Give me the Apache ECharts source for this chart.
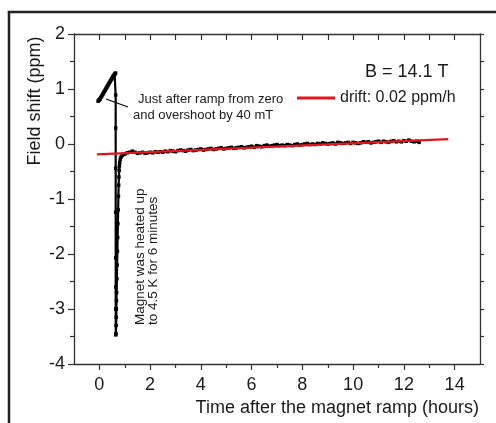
<!DOCTYPE html>
<html>
<head>
<meta charset="utf-8">
<script src="https://cdn.jsdelivr.net/npm/echarts@6/dist/echarts.min.js"></script>
<style>
html,body{margin:0;padding:0;background:#fff;overflow:hidden;}
#chart{width:496px;height:423px;}
</style>
</head>
<body>
<div id="chart"></div>
<script>
// ---- data ----
const rampTime  = [-0.05, -0.03, -0.01, 0.01, 0.03, 0.05, 0.08, 0.1, 0.13, 0.15, 0.18, 0.2, 0.23, 0.25, 0.28, 0.3, 0.33, 0.35, 0.38, 0.4, 0.43, 0.45, 0.48, 0.5, 0.53, 0.55, 0.58, 0.6, 0.62, 0.64];
const rampShift = [0.78, 0.79, 0.80, 0.81, 0.82, 0.84, 0.86, 0.88, 0.90, 0.92, 0.94, 0.96, 0.98, 1.0, 1.02, 1.04, 1.06, 1.08, 1.10, 1.12, 1.14, 1.16, 1.18, 1.20, 1.22, 1.24, 1.25, 1.27, 1.28, 1.29];

const dropTime  = [0.642, 0.642, 0.643, 0.643, 0.644, 0.644, 0.645, 0.645];
const dropShift = [0.89, 0.29, -0.44, -1.24, -2.07, -2.6, -3.0, -3.47];

const recoverTime  = [0.655, 0.66, 0.665, 0.67, 0.675, 0.68, 0.69, 0.70, 0.71, 0.72, 0.73, 0.74, 0.75, 0.76, 0.77, 0.78, 0.79, 0.80, 0.82, 0.85, 0.9, 0.95, 1.0, 1.1, 1.2];
const recoverShift = [-3.45, -3.3, -3.15, -3.0, -2.85, -2.7, -2.45, -2.2, -1.95, -1.7, -1.45, -1.2, -0.95, -0.75, -0.6, -0.48, -0.4, -0.34, -0.28, -0.24, -0.21, -0.19, -0.18, -0.16, -0.15];

const driftTime  = [1.3, 1.4, 1.5, 1.6, 1.7, 1.8, 1.9, 2.0, 2.1, 2.2, 2.3, 2.4, 2.5, 2.6, 2.7, 2.8, 2.9, 3.0, 3.1, 3.2, 3.3, 3.4, 3.5, 3.6, 3.7, 3.8, 3.9, 4.0, 4.1, 4.2, 4.3, 4.4, 4.5, 4.6, 4.7, 4.8, 4.9, 5.0, 5.1, 5.2, 5.3, 5.4, 5.5, 5.6, 5.7, 5.8, 5.9, 6.0, 6.1, 6.2, 6.3, 6.4, 6.5, 6.6, 6.7, 6.8, 6.9, 7.0, 7.1, 7.2, 7.3, 7.4, 7.5, 7.6, 7.7, 7.8, 7.9, 8.0, 8.1, 8.2, 8.3, 8.4, 8.5, 8.6, 8.7, 8.8, 8.9, 9.0, 9.1, 9.2, 9.3, 9.4, 9.5, 9.6, 9.7, 9.8, 9.9, 10.0, 10.1, 10.2, 10.3, 10.4, 10.5, 10.6, 10.7, 10.8, 10.9, 11.0, 11.1, 11.2, 11.3, 11.4, 11.5, 11.6, 11.7, 11.8, 11.9, 12.0, 12.1, 12.2, 12.3, 12.4, 12.5, 12.6];
const driftShift = [-0.13, -0.15, -0.17, -0.16, -0.15, -0.17, -0.16, -0.15, -0.16, -0.14, -0.15, -0.14, -0.15, -0.13, -0.14, -0.12, -0.13, -0.14, -0.12, -0.11, -0.12, -0.13, -0.11, -0.10, -0.12, -0.11, -0.10, -0.09, -0.11, -0.10, -0.09, -0.08, -0.10, -0.09, -0.08, -0.07, -0.09, -0.08, -0.07, -0.06, -0.08, -0.07, -0.06, -0.05, -0.07, -0.06, -0.05, -0.04, -0.06, -0.03, -0.04, -0.05, -0.03, -0.02, -0.04, -0.03, -0.02, -0.01, -0.03, -0.02, -0.03, -0.01, -0.02, -0.03, -0.01, 0.00, -0.02, -0.01, 0.00, 0.01, -0.01, 0.00, -0.01, 0.01, 0.00, 0.02, 0.01, 0.00, 0.01, 0.02, 0.00, 0.03, 0.02, 0.01, 0.02, 0.03, 0.01, 0.03, 0.02, 0.01, 0.02, 0.04, 0.03, 0.04, 0.02, 0.03, 0.04, 0.05, 0.03, 0.05, 0.04, 0.03, 0.05, 0.06, 0.04, 0.05, 0.04, 0.06, 0.05, 0.07, 0.05, 0.04, 0.05, 0.03];

const fitTime  = [-0.1, 13.75];
const fitShift = [-0.19, 0.09];

const xMajorTicks = [0, 2, 4, 6, 8, 10, 12, 14];
const xMinorTicks = [1, 3, 5, 7, 9, 11, 13];
const xTopTicks   = [0, 1, 2, 3, 4, 5, 6, 7, 8, 9, 10, 11, 12, 13, 14];

const fitName = 'drift: 0.02 ppm/h';

// ---- build series data ----
function pairs(ts, vs) { return ts.map((t, i) => [t, vs[i]]); }
const measured = [].concat(
  pairs(rampTime, rampShift),
  pairs(dropTime, dropShift),
  pairs(recoverTime, recoverShift),
  pairs(driftTime, driftShift)
);
const fitted = pairs(fitTime, fitShift);

const FONT = '"Liberation Sans", Arial, sans-serif';
const AX = '#333';
const TXT = '#1a1a1a';

const chart = echarts.init(document.getElementById('chart'), null, {renderer: 'canvas'});
chart.setOption({
  animation: false,
  backgroundColor: '#fff',
  textStyle: { fontFamily: FONT, color: TXT },
  grid: { left: 74, right: 16, top: 34, bottom: 59, containLabel: false },
  legend: {
    data: [fitName],
    left: 297, top: 90, padding: 0,
    icon: 'rect', itemWidth: 38, itemHeight: 3, itemGap: 5,
    textStyle: { fontSize: 16, color: TXT, fontFamily: FONT }
  },
  xAxis: [
    {
      type: 'value', position: 'bottom', min: -1, max: 15,
      axisLine: { show: true, onZero: false, lineStyle: { color: AX, width: 1.3 } },
      axisTick: { show: true, length: 6, customValues: xMajorTicks, lineStyle: { color: AX, width: 1.2 } },
      axisLabel: { show: true, customValues: xMajorTicks, fontSize: 18, margin: 12, color: TXT, fontFamily: FONT },
      splitLine: { show: false }
    },
    {
      type: 'value', position: 'bottom', min: -1, max: 15,
      axisLine: { show: false, onZero: false },
      axisTick: { show: true, length: 4, customValues: xMinorTicks, lineStyle: { color: AX, width: 1.2 } },
      axisLabel: { show: false },
      splitLine: { show: false }
    },
    {
      type: 'value', position: 'top', min: -1, max: 15,
      axisLine: { show: true, onZero: false, lineStyle: { color: AX, width: 1.3 } },
      axisTick: { show: true, inside: true, length: 6, customValues: xTopTicks, lineStyle: { color: AX, width: 1.2 } },
      axisLabel: { show: false },
      splitLine: { show: false }
    }
  ],
  yAxis: [
    {
      type: 'value', position: 'left', min: -4, max: 2, interval: 1,
      axisLine: { show: true, onZero: false, lineStyle: { color: AX, width: 1.3 } },
      axisTick: { show: true, length: 6, lineStyle: { color: AX, width: 1.2 } },
      minorTick: { show: true, splitNumber: 2, length: 4, lineStyle: { color: AX, width: 1.2 } },
      axisLabel: { show: true, fontSize: 18, margin: 9, color: TXT, fontFamily: FONT },
      splitLine: { show: false }, minorSplitLine: { show: false }
    },
    {
      type: 'value', position: 'right', min: -4, max: 2, interval: 0.5,
      axisLine: { show: true, onZero: false, lineStyle: { color: AX, width: 1.3 } },
      axisTick: { show: true, length: 4, lineStyle: { color: AX, width: 1.2 } },
      axisLabel: { show: false },
      splitLine: { show: false }
    }
  ],
  series: [
    {
      name: 'measured', type: 'line', xAxisIndex: 0, yAxisIndex: 0,
      data: measured,
      symbol: 'rect', symbolSize: 3.5, showSymbol: true,
      lineStyle: { color: '#000', width: 2.2 },
      itemStyle: { color: '#000' },
      z: 2
    },
    {
      name: fitName, type: 'line', xAxisIndex: 0, yAxisIndex: 0,
      data: fitted,
      symbol: 'none',
      lineStyle: { color: '#e3171b', width: 2.2 },
      itemStyle: { color: '#e3171b' },
      z: 3
    }
  ],
  graphic: [
    { type: 'rect', silent: true, z: 50, shape: { x: 487, y: 14, width: 9, height: 409 },
      style: { fill: '#fff' } },
    { type: 'line', silent: true, z: 60, shape: { x1: 9, y1: 423, x2: 9, y2: 12 },
      style: { stroke: '#222', lineWidth: 2.5 } },
    { type: 'line', silent: true, z: 60, shape: { x1: 7.75, y1: 12, x2: 496, y2: 12 },
      style: { stroke: '#222', lineWidth: 2.5 } },
    { type: 'text', x: 365, y: 72, silent: true,
      style: { text: 'B = 14.1 T', fontSize: 18, fontFamily: FONT, fill: TXT, textAlign: 'left', textVerticalAlign: 'middle' } },
    { type: 'text', x: 138, y: 99, silent: true,
      style: { text: 'Just after ramp from zero', fontSize: 13, fontFamily: FONT, fill: TXT, textAlign: 'left', textVerticalAlign: 'middle' } },
    { type: 'text', x: 133, y: 115, silent: true,
      style: { text: 'and overshoot by 40 mT', fontSize: 13, fontFamily: FONT, fill: TXT, textAlign: 'left', textVerticalAlign: 'middle' } },
    { type: 'line', silent: true, shape: { x1: 106, y1: 99, x2: 128, y2: 107 },
      style: { stroke: '#000', lineWidth: 1.2 } },
    { type: 'text', x: 140, y: 325, rotation: Math.PI / 2, silent: true,
      style: { text: 'Magnet was heated up', fontSize: 13.5, fontFamily: FONT, fill: TXT, textAlign: 'left', textVerticalAlign: 'middle' } },
    { type: 'text', x: 153.5, y: 325, rotation: Math.PI / 2, silent: true,
      style: { text: 'to 4.5 K for 6 minutes', fontSize: 13.5, fontFamily: FONT, fill: TXT, textAlign: 'left', textVerticalAlign: 'middle' } },
    { type: 'text', x: 35, y: 101, rotation: Math.PI / 2, silent: true,
      style: { text: 'Field shift (ppm)', fontSize: 18, fontFamily: FONT, fill: TXT, textAlign: 'center', textVerticalAlign: 'middle' } },
    { type: 'text', x: 479, y: 408, silent: true,
      style: { text: 'Time after the magnet ramp (hours)', fontSize: 18, fontFamily: FONT, fill: TXT, textAlign: 'right', textVerticalAlign: 'middle' } }
  ]
});
</script>
</body>
</html>
